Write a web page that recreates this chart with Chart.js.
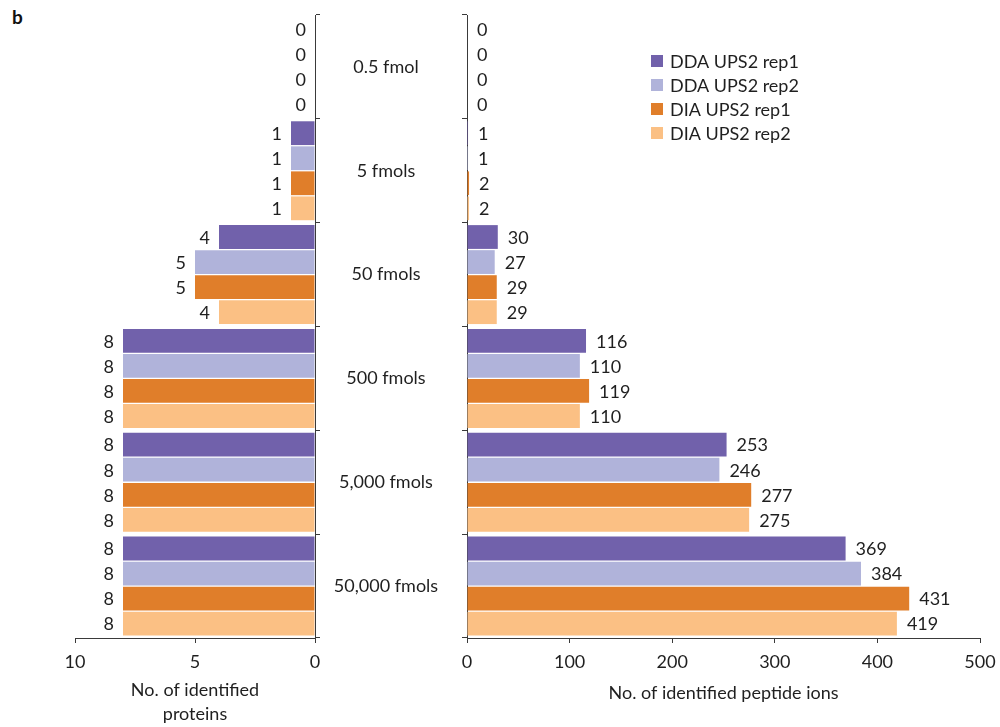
<!DOCTYPE html>
<html><head><meta charset="utf-8">
<script src="https://cdn.jsdelivr.net/npm/chart.js@4.4.0/dist/chart.umd.min.js"></script>
<style>
html,body{margin:0;padding:0;background:#fff;}
#wrap{position:relative;width:1000px;height:727px;overflow:hidden;}
canvas{position:absolute;top:0;left:0;}
#b{position:absolute;left:12px;top:5px;font:bold 19px Lato, "DejaVu Sans", sans-serif;color:#111;}
</style></head><body>
<div id="wrap">
<div id="b">b</div>
<canvas id="left" width="330" height="727" style="width:330px;height:727px"></canvas>
<canvas id="right" width="1000" height="727" style="width:1000px;height:727px"></canvas>
</div>
<script>
// ---- data ----
const categories = ['0.5 fmol', '5 fmols', '50 fmols', '500 fmols', '5,000 fmols', '50,000 fmols'];
const seriesNames = ['DDA UPS2 rep1', 'DDA UPS2 rep2', 'DIA UPS2 rep1', 'DIA UPS2 rep2'];
const proteinsDDA1 = [0, 1, 4, 8, 8, 8];
const proteinsDDA2 = [0, 1, 5, 8, 8, 8];
const proteinsDIA1 = [0, 1, 5, 8, 8, 8];
const proteinsDIA2 = [0, 1, 4, 8, 8, 8];
const peptidesDDA1 = [0, 1, 30, 116, 253, 369];
const peptidesDDA2 = [0, 1, 27, 110, 246, 384];
const peptidesDIA1 = [0, 2, 29, 119, 277, 431];
const peptidesDIA2 = [0, 2, 29, 110, 275, 419];
const proteinAxis = {min: 0, max: 10, step: 5};
const peptideAxis = {min: 0, max: 500, step: 100};
const proteinTitle = ['No. of identified', 'proteins'];
const peptideTitle = 'No. of identified peptide ions';

// ---- styles ----
const colors = ['#7161AB', '#B0B3DA', '#E07E2A', '#FBC084'];
const FONT = 'Lato, "Open Sans", sans-serif';
const FS = 18;
const textColor = '#1f1f1f';
const axisColor = '#3a3a3a';

Chart.defaults.font.family = FONT;
Chart.defaults.font.size = FS;
Chart.defaults.color = textColor;

function makeDatasets(arrs) {
  return arrs.map((d, i) => ({
    label: seriesNames[i], data: d, backgroundColor: colors[i],
    borderWidth: 0, barPercentage: 0.95, categoryPercentage: 0.965
  }));
}

const valueLabels = {
  id: 'valueLabels',
  afterDatasetsDraw(chart, args, opts) {
    const ctx = chart.ctx;
    ctx.save();
    ctx.font = FS + 'px ' + FONT;
    ctx.fillStyle = textColor;
    ctx.textBaseline = 'middle';
    chart.data.datasets.forEach((ds, i) => {
      chart.getDatasetMeta(i).data.forEach((bar, j) => {
        const v = ds.data[j];
        if (opts.side === 'left') { ctx.textAlign = 'right'; ctx.fillText(String(v), bar.x - opts.gap, bar.y + 1); }
        else { ctx.textAlign = 'left'; ctx.fillText(String(v), bar.x + opts.gap, bar.y + 1); }
      });
    });
    ctx.restore();
  }
};

const customLegend = {
  id: 'customLegend',
  afterDraw(chart, args, opts) {
    const ctx = chart.ctx;
    ctx.save();
    ctx.font = FS + 'px ' + FONT;
    ctx.textBaseline = 'middle';
    ctx.textAlign = 'left';
    chart.data.datasets.forEach((ds, i) => {
      const y = opts.y + i * opts.dy;
      ctx.fillStyle = ds.backgroundColor;
      ctx.fillRect(opts.x, y - 6, 12, 12);
      ctx.fillStyle = textColor;
      ctx.fillText(ds.label, opts.x + 19, y + 1);
    });
    ctx.restore();
  }
};

const gridCommon = {drawOnChartArea: false, tickLength: 5, color: axisColor, lineWidth: 1};

// left chart
new Chart(document.getElementById('left'), {
  type: 'bar',
  data: {labels: categories, datasets: makeDatasets([proteinsDDA1, proteinsDDA2, proteinsDIA1, proteinsDIA2])},
  plugins: [valueLabels],
  options: {
    responsive: false, animation: false, indexAxis: 'y',
    layout: {autoPadding: false, padding: {left: 75, right: 10, top: 15, bottom: 0}},
    plugins: {legend: {display: false}, tooltip: {enabled: false}, valueLabels: {side: 'left', gap: 9}},
    scales: {
      x: {
        type: 'linear', reverse: true, min: proteinAxis.min, max: proteinAxis.max,
        ticks: {stepSize: proteinAxis.step, padding: 8, color: textColor},
        grid: {...gridCommon}, border: {color: axisColor},
        title: {display: true, text: proteinTitle, color: textColor, font: {size: FS, lineHeight: 1.33}, padding: {top: 0, bottom: 1}},
        afterFit(s) { s.height = 89; s.paddingLeft = 0; s.paddingRight = 0; }
      },
      y: {
        type: 'category', position: 'right',
        ticks: {display: false},
        grid: {...gridCommon, offset: true}, border: {color: axisColor},
        afterFit(s) { s.width = 5; s.paddingTop = 0; s.paddingBottom = 0; }
      }
    }
  }
});

// measure widest category label for centering
const mctx = document.createElement('canvas').getContext('2d');
mctx.font = FS + 'px ' + FONT;
const widest = Math.max(...categories.map(c => mctx.measureText(c).width));
const catCenterFromAxis = 81;
const catPad = catCenterFromAxis - 5 - widest / 2;

// right chart
new Chart(document.getElementById('right'), {
  type: 'bar',
  data: {labels: categories, datasets: makeDatasets([peptidesDDA1, peptidesDDA2, peptidesDIA1, peptidesDIA2])},
  plugins: [valueLabels, customLegend],
  options: {
    responsive: false, animation: false, indexAxis: 'y',
    layout: {autoPadding: false, padding: {left: 315, right: 20, top: 15, bottom: 0}},
    plugins: {legend: {display: false}, tooltip: {enabled: false},
      valueLabels: {side: 'right', gap: 10},
      customLegend: {x: 651, y: 61, dy: 24}},
    scales: {
      x: {
        type: 'linear', min: peptideAxis.min, max: peptideAxis.max,
        ticks: {stepSize: peptideAxis.step, padding: 8, color: textColor},
        grid: {...gridCommon}, border: {color: axisColor},
        title: {display: true, text: peptideTitle, color: textColor, font: {size: FS, lineHeight: 1.33}, padding: {top: 0, bottom: 22}},
        afterFit(s) { s.height = 89; s.paddingLeft = 0; s.paddingRight = 0; }
      },
      y: {
        type: 'category', position: 'left',
        ticks: {crossAlign: 'center', padding: catPad, color: textColor, font: {size: FS}},
        grid: {...gridCommon, offset: true}, border: {color: axisColor},
        afterFit(s) { s.width = 152; s.paddingTop = 0; s.paddingBottom = 0; }
      }
    }
  }
});
</script>
</body></html>
